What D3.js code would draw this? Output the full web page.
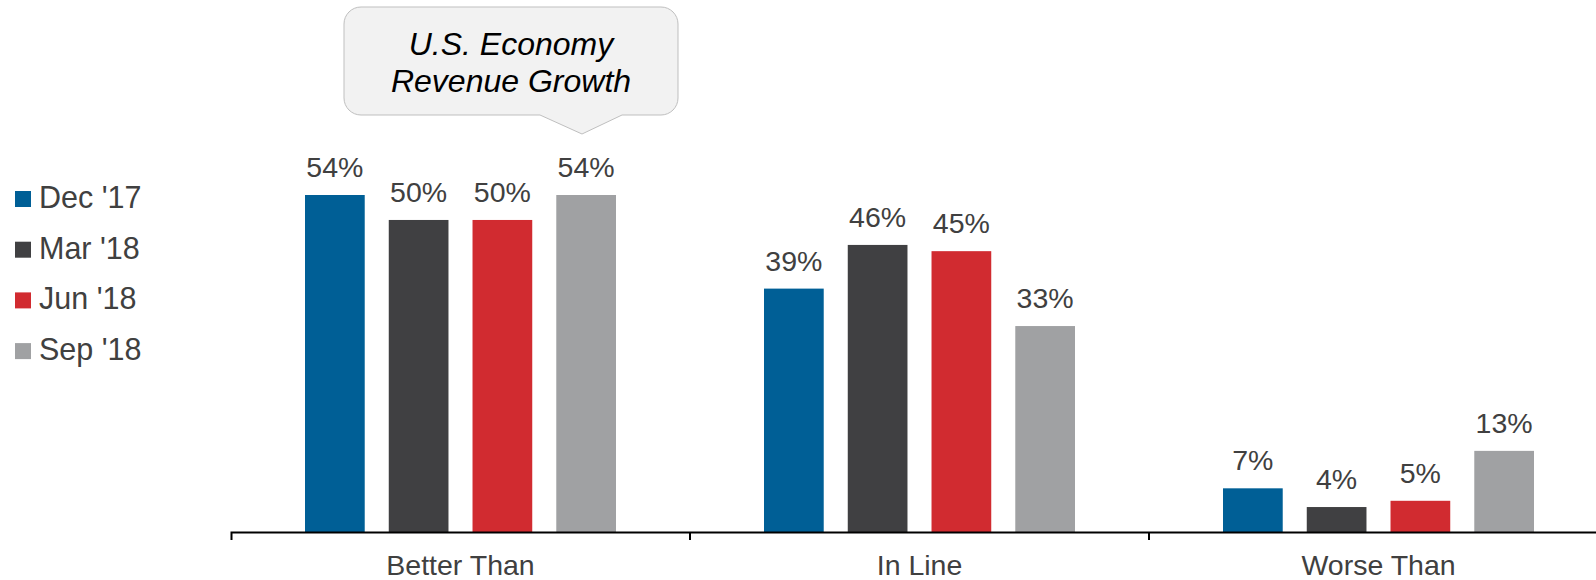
<!DOCTYPE html>
<html>
<head>
<meta charset="utf-8">
<script src="https://cdn.jsdelivr.net/npm/d3@7"></script>
<style>
  body { margin: 0; background: #fff; }
  text { font-family: "Liberation Sans", Arial, sans-serif; }
</style>
</head>
<body>
<svg id="chart"></svg>
<script>
// data
const categories = ['Better Than', 'In Line', 'Worse Than'];
const seriesNames = ["Dec '17", "Mar '18", "Jun '18", "Sep '18"];
const dec17 = [54, 39, 7];
const mar18 = [50, 46, 4];
const jun18 = [50, 45, 5];
const sep18 = [54, 33, 13];
const seriesColors = ['#005f96', '#404042', '#d12b30', '#a0a1a3'];
const calloutLines = ['U.S. Economy', 'Revenue Growth'];

const seriesValues = [dec17, mar18, jun18, sep18];

const config = {
    width: 1596,
    height: 580,
    axisY: 532,
    textColor: '#404040'
};

const svg = d3.select('#chart')
    .attr('width', config.width)
    .attr('height', config.height);

// scales
const xScale = d3.scaleBand()
    .domain(categories)
    .range([231, 1608]);

const xSub = d3.scaleBand()
    .domain(seriesNames)
    .range([74, 385])
    .paddingInner(0.287);

const yScale = d3.scaleLinear()
    .domain([0, 54])
    .range([config.axisY, 195]);

// bars
const groups = svg.selectAll('.group')
    .data(categories)
    .join('g')
    .attr('class', 'group')
    .attr('transform', d => `translate(${xScale(d)},0)`);

groups.each(function(cat, ci) {
    const g = d3.select(this);
    const rows = seriesNames.map((s, si) => ({ s, si, v: seriesValues[si][ci] }));

    g.selectAll('rect')
        .data(rows)
        .join('rect')
        .attr('x', d => xSub(d.s))
        .attr('width', xSub.bandwidth())
        .attr('y', d => yScale(d.v))
        .attr('height', d => config.axisY - yScale(d.v))
        .attr('fill', d => seriesColors[d.si]);

    g.selectAll('.value')
        .data(rows)
        .join('text')
        .attr('class', 'value')
        .attr('x', d => xSub(d.s) + xSub.bandwidth() / 2)
        .attr('y', d => yScale(d.v) - 18)
        .attr('text-anchor', 'middle')
        .attr('font-size', 28.5)
        .attr('fill', config.textColor)
        .text(d => d.v + '%');
});

// x axis
const xAxis = d3.axisBottom(xScale)
    .tickSize(0)
    .tickSizeOuter(8)
    .tickPadding(22);

const xAxisG = svg.append('g')
    .attr('class', 'axis x-axis')
    .attr('transform', `translate(0,${config.axisY})`)
    .call(xAxis);

xAxisG.select('.domain')
    .attr('stroke', '#000')
    .attr('stroke-width', 2);

xAxisG.selectAll('.tick text')
    .attr('font-size', 28.5)
    .attr('font-family', '"Liberation Sans", Arial, sans-serif')
    .attr('fill', config.textColor)
    .attr('dy', '0.72em');

// separator ticks between categories
xAxisG.selectAll('.sep')
    .data(categories.slice(1))
    .join('line')
    .attr('class', 'sep')
    .attr('x1', d => xScale(d))
    .attr('x2', d => xScale(d))
    .attr('y1', 0)
    .attr('y2', 8)
    .attr('stroke', '#000')
    .attr('stroke-width', 2);

// legend
const legend = svg.append('g')
    .attr('transform', 'translate(15,191)');

const legendItems = legend.selectAll('.legend-item')
    .data(seriesNames)
    .join('g')
    .attr('class', 'legend-item')
    .attr('transform', (d, i) => `translate(0,${i * 50.7})`);

legendItems.append('rect')
    .attr('width', 16)
    .attr('height', 16)
    .attr('fill', (d, i) => seriesColors[i]);

legendItems.append('text')
    .attr('x', 24)
    .attr('y', 17)
    .attr('font-size', 30.5)
    .attr('fill', config.textColor)
    .text(d => d);

// callout bubble
const bx = 344, by = 7, bw = 334, bh = 108, r = 17;
const tipX = 582, tipY = 134;
const path = d3.path();
path.moveTo(bx + r, by);
path.lineTo(bx + bw - r, by);
path.arcTo(bx + bw, by, bx + bw, by + r, r);
path.lineTo(bx + bw, by + bh - r);
path.arcTo(bx + bw, by + bh, bx + bw - r, by + bh, r);
path.lineTo(622, by + bh);
path.lineTo(tipX, tipY);
path.lineTo(540, by + bh);
path.lineTo(bx + r, by + bh);
path.arcTo(bx, by + bh, bx, by + bh - r, r);
path.lineTo(bx, by + r);
path.arcTo(bx, by, bx + r, by, r);
path.closePath();

svg.append('path')
    .attr('d', path.toString())
    .attr('fill', '#f2f2f2')
    .attr('stroke', '#bfbfbf')
    .attr('stroke-width', 1);

svg.selectAll('.callout')
    .data(calloutLines)
    .join('text')
    .attr('class', 'callout')
    .attr('x', 511)
    .attr('y', (d, i) => 54.5 + i * 37.3)
    .attr('text-anchor', 'middle')
    .attr('font-size', 32)
    .attr('font-style', 'italic')
    .attr('fill', '#000')
    .text(d => d);
</script>
</body>
</html>
